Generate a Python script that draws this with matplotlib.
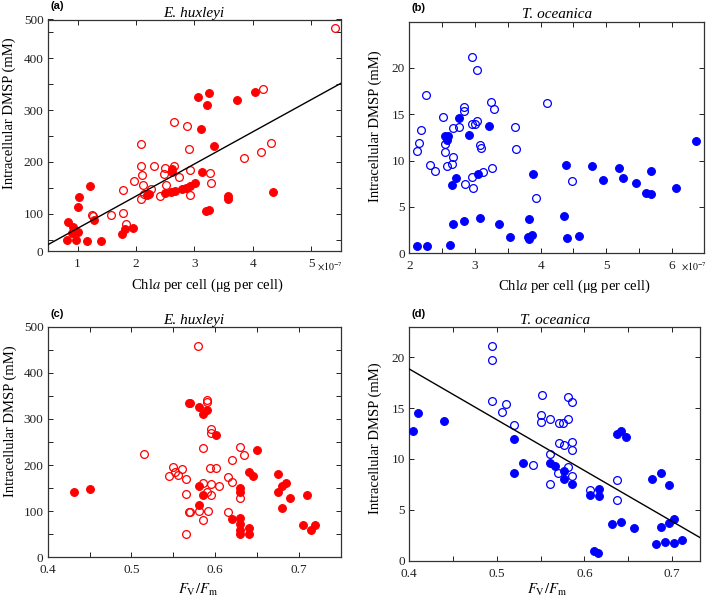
import matplotlib
matplotlib.use('Agg')
import numpy as np
import matplotlib.pyplot as plt

plt.rcParams['font.family'] = ['Liberation Serif', 'DejaVu Serif']
plt.rcParams['mathtext.fontset'] = 'stix'

RED = '#ff0000'
BLUE = '#0000ff'

# (a) E. huxleyi: DMSP (mM) vs Chl a per cell (x 1e-7 ug per cell)
a_filled_chl = [0.82, 0.84, 0.92, 0.90, 0.98, 1.01, 1.00, 1.03, 1.21, 1.28, 1.17, 1.40,
                1.76, 1.81, 1.95, 2.18, 2.22, 2.50, 2.59, 2.66, 2.78, 2.86, 2.93, 3.01,
                2.61, 2.62, 3.06, 3.22, 3.25, 3.11, 3.12, 3.34, 3.19, 3.24, 3.58, 3.58,
                3.73, 4.03, 4.34]
a_filled_dmsp = [50, 84, 75, 62, 50, 64, 113, 132, 154, 87, 48, 48,
                 61, 71, 73, 137, 139, 140, 142, 144, 148, 150, 153, 159,
                 180, 187, 326, 310, 334, 264, 181, 231, 106, 108, 134, 128,
                 320, 335, 142]
a_open_chl = [5.40, 4.17, 4.30, 4.13, 3.85, 2.65, 2.88, 2.08, 2.91, 2.08, 2.30, 2.49,
              2.65, 2.11, 2.92, 2.74, 3.27, 3.29, 1.96, 2.12, 1.78, 2.25, 2.52, 2.08,
              2.14, 2.41, 2.93, 2.48, 1.77, 1.57, 1.24, 1.27, 1.83]
a_open_dmsp = [458, 340, 237, 220, 208, 277, 269, 235, 224, 193, 192, 189,
               193, 174, 184, 170, 178, 160, 163, 155, 145, 148, 156, 129,
               139, 134, 137, 176, 101, 98, 98, 96, 81]
a_fit = (62.2, 9.5)  # slope, intercept

# (b) T. oceanica: DMSP (mM) vs Chl a per cell (x 1e-7 ug per cell)
b_filled_chl = [2.76, 3.22, 2.91, 2.55, 2.59, 2.57, 2.71, 2.65, 3.04, 3.88,
                4.39, 4.78, 5.20, 4.95, 5.26, 5.45, 5.61, 5.68, 5.68, 6.07, 6.37,
                4.36, 3.83, 3.08, 2.84, 2.67, 3.37, 3.53, 3.81, 3.87, 3.83,
                4.41, 4.58, 2.12, 2.27, 2.62]
b_filled_dmsp = [14.6, 13.75, 12.8, 12.6, 12.7, 12.2, 8.1, 7.4, 8.6, 8.6,
                 9.5, 9.4, 9.16, 7.9, 8.08, 7.58, 6.46, 6.39, 8.87, 7.07, 12.14,
                 4.02, 3.7, 3.77, 3.52, 3.16, 3.2, 1.72, 1.72, 1.97, 1.54,
                 1.6, 1.87, 0.75, 0.79, 0.93]
b_open_chl = [2.96, 3.03, 2.26, 4.10, 3.25, 3.29, 2.83, 2.83, 2.51, 2.18, 2.15, 2.12,
              2.31, 2.39, 2.55, 2.55, 2.57, 2.66, 2.65, 2.66, 2.75, 2.95, 3.00, 3.03,
              3.08, 3.09, 3.13, 3.26, 2.95, 2.85, 2.97, 3.61, 3.63, 3.93, 4.48]
b_open_dmsp = [21.2, 19.8, 17.1, 16.2, 16.3, 15.6, 15.8, 15.4, 14.7, 13.3, 11.9, 11.0,
               9.55, 8.9, 11.8, 10.95, 9.45, 10.4, 9.6, 13.5, 13.6, 13.9, 13.9, 14.3,
               11.7, 11.4, 8.8, 9.2, 8.26, 7.5, 7.0, 13.6, 11.3, 6.0, 7.83]

# (c) E. huxleyi: DMSP (mM) vs Fv/Fm
c_filled_fv = [0.431, 0.450, 0.569, 0.570, 0.581, 0.590, 0.585, 0.601, 0.650, 0.640,
               0.645, 0.675, 0.680, 0.685, 0.675, 0.689, 0.680, 0.710, 0.705, 0.715,
               0.719, 0.630, 0.630, 0.581, 0.585, 0.581, 0.620, 0.630, 0.630, 0.630,
               0.630, 0.640, 0.640]
c_filled_dmsp = [142, 148, 334, 334, 326, 319, 310, 265, 233, 184,
                 177, 181, 155, 161, 142, 128, 107, 134, 71, 59,
                 71, 150, 141, 155, 134, 114, 83, 86, 73, 60,
                 50, 64, 50]
c_open_fv = [0.515, 0.550, 0.545, 0.552, 0.556, 0.560, 0.565, 0.565, 0.569, 0.565,
             0.580, 0.590, 0.590, 0.595, 0.595, 0.585, 0.630, 0.635, 0.620, 0.594,
             0.601, 0.615, 0.620, 0.585, 0.595, 0.605, 0.590, 0.595, 0.630, 0.581,
             0.591, 0.570, 0.585, 0.615]
c_open_dmsp = [225, 195, 177, 186, 178, 191, 170, 137, 99, 51,
               459, 342, 337, 279, 270, 237, 239, 222, 211, 193,
               193, 175, 163, 161, 158, 154, 141, 136, 128, 100,
               100, 99, 80, 99]

# (d) T. oceanica: DMSP (mM) vs Fv/Fm
d_filled_fv = [0.410, 0.404, 0.440, 0.520, 0.530, 0.520, 0.561, 0.566, 0.577, 0.577,
               0.586, 0.606, 0.617, 0.617, 0.637, 0.642, 0.647, 0.677, 0.687, 0.697,
               0.631, 0.642, 0.657, 0.687, 0.697, 0.702, 0.682, 0.692, 0.702, 0.712,
               0.611, 0.615]
d_filled_dmsp = [14.5, 12.7, 13.7, 12.0, 9.6, 8.6, 9.6, 9.3, 8.85, 8.0,
                 7.5, 6.46, 7.0, 6.4, 12.45, 12.7, 12.2, 8.0, 8.6, 7.45,
                 3.58, 3.8, 3.24, 3.28, 3.73, 4.1, 1.61, 1.8, 1.77, 2.03,
                 0.98, 0.79]
d_open_fv = [0.495, 0.495, 0.495, 0.511, 0.506, 0.551, 0.550, 0.550, 0.561, 0.520,
             0.541, 0.561, 0.561, 0.581, 0.586, 0.571, 0.576, 0.581, 0.571, 0.577,
             0.586, 0.586, 0.581, 0.570, 0.586, 0.606, 0.637, 0.637]
d_open_dmsp = [21.1, 19.7, 15.7, 15.4, 14.6, 16.3, 14.3, 13.6, 13.9, 13.3,
               9.4, 10.5, 7.5, 16.1, 15.6, 13.5, 13.5, 13.9, 11.6, 11.4,
               11.7, 10.9, 9.2, 8.65, 8.3, 6.95, 7.9, 5.97]
d_fit = (-49.9, 38.8)  # slope, intercept

fig = plt.figure(figsize=(7.09, 5.98), dpi=100)
W, H = 709.0, 598.0


def make_ax(l, r, t, b):
    return fig.add_axes([l / W, 1 - b / H, (r - l) / W, (b - t) / H])


def points(ax, fx, fy, ox, oy, color):
    ax.plot(ox, oy, 'o', ms=5.6, mfc='none', mec=color, mew=0.9, zorder=3)
    ax.plot(fx, fy, 'o', ms=5.6, mfc=color, mec=color, mew=0.8, zorder=3)


def fit_line(ax, fit):
    x0, x1 = ax.get_xlim()
    xs = np.array([x0, x1])
    ax.plot(xs, fit[0] * xs + fit[1], color='black', lw=1.0, zorder=4)


def decorate(ax, letter, title, xlabel, xlab_pos, ylab_pos):
    ax.tick_params(which='both', direction='in', top=True, right=True,
                   length=3.5, width=0.7, labelsize=9.5, colors='#222222')
    ax.tick_params(axis='x', which='both', pad=5)
    ax.tick_params(axis='y', which='both', pad=3)
    for s in ax.spines.values():
        s.set_linewidth(0.9)
        s.set_color('#333333')
    ax.set_title(title, fontstyle='italic', fontsize=11, pad=2)
    ax.text(0.008, 1.035, letter, transform=ax.transAxes, ha='left', va='bottom',
            fontsize=8, fontweight='bold', family=['Liberation Sans', 'DejaVu Sans'])
    ax.set_xlabel(xlabel, fontsize=10.5)
    ax.xaxis.set_label_coords(*xlab_pos)
    ax.set_ylabel('Intracellular DMSP (mM)', fontsize=10.5)
    ax.yaxis.set_label_coords(*ylab_pos)
    ax.xaxis.label.set_va('center')
    ax.yaxis.label.set_va('center')


chl_label = r'Chl$\it{a}$ per cell (μg per cell)'
fv_label = r'$F_{\mathrm{V}}/F_{\mathrm{m}}$'

# panel (a)
ax = make_ax(47.7, 340.7, 19.5, 251.0)
ax.set_xlim(0.49, 5.5)
ax.set_ylim(28, 475)
points(ax, a_filled_chl, a_filled_dmsp, a_open_chl, a_open_dmsp, RED)
fit_line(ax, a_fit)
ax.set_xticks([1, 2, 3, 4, 5])
ax.set_yticks([28, 100, 200, 300, 400, 475], ['0', '100', '200', '300', '400', '500'])
ax.set_yticks([50, 150, 250, 350, 450], minor=True)
decorate(ax, '(a)', 'E. huxleyi', chl_label, (0.544, -0.15), (-0.131, 0.595))
ax.text(1.008, -0.068, r'$\times 10^{-7}$', transform=ax.transAxes, ha='right',
        va='center', fontsize=7)

# panel (b)
ax = make_ax(409.3, 704.0, 21.5, 253.3)
ax.set_xlim(2, 6.49)
ax.set_ylim(0, 25)
points(ax, b_filled_chl, b_filled_dmsp, b_open_chl, b_open_dmsp, BLUE)
ax.set_xticks([2, 3, 4, 5, 6])
ax.set_xticks([2.5, 3.5, 4.5, 5.5], minor=True)
ax.set_yticks([0, 5, 10, 15, 20])
decorate(ax, '(b)', 'T. oceanica', chl_label, (0.559, -0.141), (-0.116, 0.549))
ax.text(1.01, -0.058, r'$\times 10^{-7}$', transform=ax.transAxes, ha='right',
        va='center', fontsize=7)

# panel (c)
ax = make_ax(47.7, 340.7, 326.7, 557.3)
ax.set_xlim(0.4, 0.75)
ax.set_ylim(0, 500)
points(ax, c_filled_fv, c_filled_dmsp, c_open_fv, c_open_dmsp, RED)
ax.set_xticks([0.4, 0.5, 0.6, 0.7], ['0.4', '0.5', '0.6', '0.7'])
ax.set_xticks([0.45, 0.55, 0.65], minor=True)
ax.set_yticks([0, 100, 200, 300, 400, 500])
ax.set_yticks([50, 150, 250, 350, 450], minor=True)
decorate(ax, '(c)', 'E. huxleyi', fv_label, (0.513, -0.142), (-0.129, 0.592))

# panel (d)
ax = make_ax(409.3, 700.0, 326.7, 560.7)
ax.set_xlim(0.4, 0.732)
ax.set_ylim(0, 23)
points(ax, d_filled_fv, d_filled_dmsp, d_open_fv, d_open_dmsp, BLUE)
fit_line(ax, d_fit)
ax.set_xticks([0.4, 0.5, 0.6, 0.7], ['0.4', '0.5', '0.6', '0.7'])
ax.set_xticks([0.45, 0.55, 0.65], minor=True)
ax.set_yticks([0, 5, 10, 15, 20])
decorate(ax, '(d)', 'T. oceanica', fv_label, (0.475, -0.125), (-0.118, 0.523))

fig.savefig('out.png', dpi=100)
